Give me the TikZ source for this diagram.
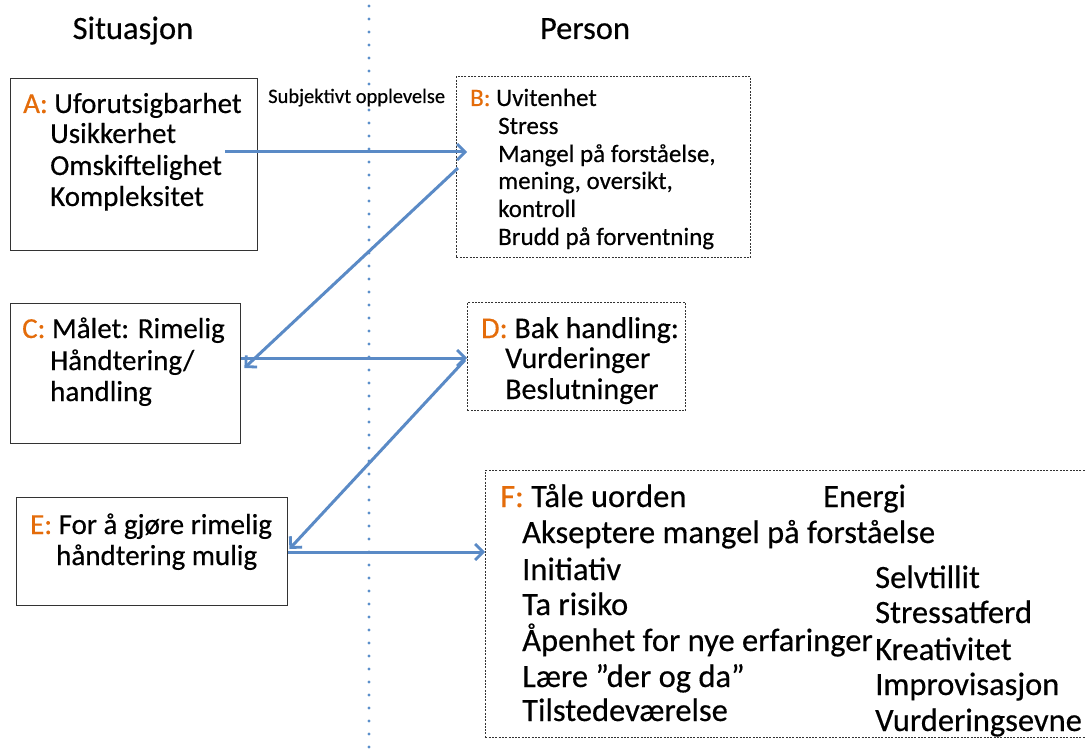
\documentclass[tikz,border=0pt]{standalone}
\usepackage{fontspec}
\setmainfont{Carlito}[FakeBold=0.4]
\usetikzlibrary{arrows.meta,calc}
\definecolor{lbl}{HTML}{E46C0A}
\definecolor{arrblue}{HTML}{5A8AC6}
\definecolor{dotblue}{HTML}{5B8FCB}
\definecolor{boxline}{HTML}{333333}
\tikzset{
  solidbox/.style={draw=boxline,line width=1.4pt,anchor=north west,inner sep=0pt},
  dashbox/.style={draw=boxline,line width=0.9pt,dash pattern=on 2pt off 1.3pt,anchor=north west,inner sep=0pt},
  txt/.style={anchor=base west,inner sep=0pt,font=\fontsize{29}{33}\selectfont},
  txtd/.style={anchor=base west,inner sep=0pt,font=\fontsize{30}{34}\selectfont},
  txtb/.style={anchor=base west,inner sep=0pt,font=\fontsize{25}{29}\selectfont},
  txtf/.style={anchor=base west,inner sep=0pt,font=\fontsize{32.5}{36}\selectfont},
  title/.style={anchor=base,inner sep=0pt,font=\fontsize{32.5}{36}\selectfont},
  arr/.style={draw=arrblue,line width=3pt,-{Straight Barb[length=8pt,width=16pt,line width=2.8pt]}},
}
\newcommand{\lab}[1]{\textcolor{lbl}{#1}}
\begin{document}
\begin{tikzpicture}[x=1pt,y=-1pt]
\useasboundingbox (0,0) rectangle (1086,751);
\fill[white] (0,0) rectangle (1086,751);
% divider
\draw[dotblue,line width=3.2pt,line cap=round,dash pattern=on 0pt off 13pt] (369,6) -- (369,751);
% titles
\node[title] (t1) at (133,39) {Situasjon};
\node[title] (t2) at (585,39) {Person};
% boxes
\node[solidbox,minimum width=247pt,minimum height=172pt] (A) at (10,78) {};
\node[dashbox,minimum width=294pt,minimum height=181pt] (B) at (456,76) {};
\node[solidbox,minimum width=230pt,minimum height=140pt] (C) at (10,303) {};
\node[dashbox,minimum width=218pt,minimum height=108pt] (D) at (467,302) {};
\node[solidbox,minimum width=271pt,minimum height=108pt] (E) at (16,497) {};
\node[dashbox,minimum width=610pt,minimum height=267pt] (F) at (485,470) {};
% box A text
\node[txt] (a1) at (23,113) {\lab{A:} Uforutsigbarhet};
\node[txt] (a2) at (50,143) {Usikkerhet};
\node[txt] (a3) at (50,175) {Omskiftelighet};
\node[txt] (a4) at (50,206) {Kompleksitet};
% subjective label
\node[anchor=base west,inner sep=0pt,font=\fontsize{20.5}{24}\selectfont] (subj) at (268,103) {Subjektivt opplevelse};
% box B text
\node[txtb] (b1) at (470,106) {\lab{B:} Uvitenhet};
\node[txtb] (b2) at (498,134) {Stress};
\node[txtb] (b3) at (498,162) {Mangel på forståelse,};
\node[txtb] (b4) at (498,189) {mening, oversikt,};
\node[txtb] (b5) at (498,217) {kontroll};
\node[txtb] (b6) at (498,245) {Brudd på forventning};
% box C text
\node[txt] (c1) at (22,338) {\lab{C:} Målet: Rimelig};
\node[txt] (c2) at (50,370) {Håndtering/};
\node[txt] (c3) at (50,401) {handling};
% box D text
\node[txtd] (d1) at (481,338) {\lab{D:} Bak handling:};
\node[txtd] (d2) at (505,368) {Vurderinger};
\node[txtd] (d3) at (505,399) {Beslutninger};
% box E text
\node[txt] (e1) at (30,534) {\lab{E:} For å gjøre rimelig};
\node[txt] (e2) at (56,565) {håndtering mulig};
% box F text
\node[txtf] (f1) at (500,507) {\lab{F:} Tåle uorden};
\node[txtf] (f0) at (823,507) {Energi};
\node[txtf] (f2) at (522,543) {Akseptere mangel på forståelse};
\node[txtf] (f3) at (522,580) {Initiativ};
\node[txtf] (f4) at (522,615) {Ta risiko};
\node[txtf] (f5) at (522,651) {Åpenhet for nye erfaringer};
\node[txtf] (f6) at (522,687) {Lære ”der og da”};
\node[txtf] (f7) at (522,721) {Tilstedeværelse};
\node[txtf] (g1) at (875,588) {Selvtillit};
\node[txtf] (g2) at (875,623) {Stressatferd};
\node[txtf] (g3) at (875,660) {Kreativitet};
\node[txtf] (g4) at (875,695) {Improvisasjon};
\node[txtf] (g5) at (875,731) {Vurderingsevne};
% connectors
\coordinate (s1) at (225,152);
\draw[arr] (s1) -- ($(B.west |- s1)+(11,0)$);
\draw[arr] ($(B.north west)+(2,92)$) -- ($(C.north east)+(3,65)$);
\draw[arr] ($(C.north east)+(0,55)$) -- ($(D.north west)+(0,56)$);
\draw[arr] ($(D.north west)+(-2,58)$) -- ($(E.north east)+(1,52)$);
\draw[arr] ($(E.north east)+(0,55)$) -- ($(F.north west)+(0,82)$);
\end{tikzpicture}
\end{document}
